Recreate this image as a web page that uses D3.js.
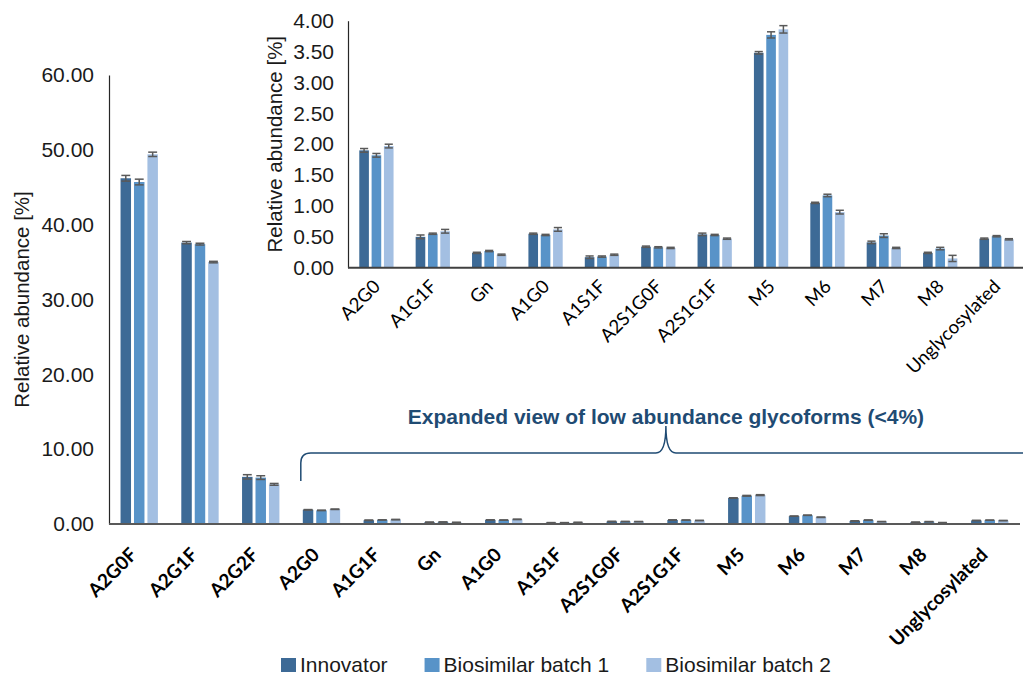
<!DOCTYPE html>
<html>
<head>
<meta charset="utf-8">
<script src="https://cdn.jsdelivr.net/npm/d3@7"></script>
<style>
  body { margin: 0; background: #fff; }
  svg { display: block; }
</style>
</head>
<body>
<svg id="chart" width="1023" height="677"></svg>
<script>
// Glycoform categories (main chart shows all, inset shows the low-abundance ones)
const categories = ["A2G0F", "A2G1F", "A2G2F", "A2G0", "A1G1F", "Gn", "A1G0", "A1S1F",
  "A2S1G0F", "A2S1G1F", "M5", "M6", "M7", "M8", "Unglycosylated"];
const lowCategories = categories.slice(3);

const seriesNames = ["Innovator", "Biosimilar batch 1", "Biosimilar batch 2"];

// Relative abundance [%] per glycoform
const innovator = [46.2, 37.6, 6.3, 1.90, 0.50, 0.24, 0.55, 0.17, 0.34, 0.54, 3.48, 1.05, 0.41, 0.24, 0.47];
const batch1    = [45.7, 37.4, 6.2, 1.82, 0.55, 0.27, 0.53, 0.18, 0.33, 0.53, 3.77, 1.17, 0.52, 0.31, 0.51];
const batch2    = [49.4, 35.0, 5.3, 1.97, 0.59, 0.21, 0.62, 0.21, 0.32, 0.47, 3.86, 0.90, 0.32, 0.15, 0.46];

// Standard deviations
const innovatorErr = [0.38, 0.15, 0.29, 0.03, 0.03, 0.01, 0.01, 0.02, 0.01, 0.02, 0.02, 0.01, 0.02, 0.01, 0.01];
const batch1Err    = [0.38, 0.12, 0.25, 0.03, 0.01, 0.01, 0.01, 0.01, 0.01, 0.01, 0.05, 0.02, 0.03, 0.02, 0.01];
const batch2Err    = [0.29, 0.10, 0.12, 0.03, 0.03, 0.01, 0.03, 0.01, 0.01, 0.01, 0.06, 0.03, 0.01, 0.05, 0.01];

const mainTicks  = [0, 10, 20, 30, 40, 50, 60];
const insetTicks = [0, 0.5, 1, 1.5, 2, 2.5, 3, 3.5, 4];

const yTitle = "Relative abundance [%]";
const bracketLabel = "Expanded view of low abundance glycoforms (<4%)";

const seriesColors = ["#3d6a96", "#5893c8", "#a3bfe2"];
const errColor = "#595959";
const noteColor = "#1f4b73";
const sansFont = "'Liberation Sans', Arial, sans-serif";
const labelFont = "Lato, 'Open Sans', sans-serif";

const seriesValues = [innovator, batch1, batch2];
const seriesErrs = [innovatorErr, batch1Err, batch2Err];
const rows = categories.map((c, i) => ({
  category: c,
  values: seriesNames.map((s, j) => ({ series: s, value: seriesValues[j][i], err: seriesErrs[j][i] }))
}));
const lowRows = rows.filter(r => lowCategories.includes(r.category));

const svg = d3.select("#chart");
const W = 1023;

// ---------- scales ----------
const mainX = d3.scaleBand().domain(categories).range([109, 1020]).paddingInner(0.385).paddingOuter(0.19);
const mainY = d3.scaleLinear().domain([0, 60]).range([524, 75]);
const mainSub = d3.scaleBand().domain(seriesNames).range([0, mainX.bandwidth()]).paddingInner(0.22);

const insetX = d3.scaleBand().domain(lowCategories).range([348, 1025]).paddingInner(0.392).paddingOuter(0.2);
const insetY = d3.scaleLinear().domain([0, 4]).range([267.7, 20.7]);
const insetSub = d3.scaleBand().domain(seriesNames).range([0, insetX.bandwidth()]).paddingInner(0.22);

const color = d3.scaleOrdinal().domain(seriesNames).range(seriesColors);

function drawBars(layer, data, x, y, sub) {
  const groups = layer.selectAll("g.grp").data(data).join("g")
    .attr("class", "grp")
    .attr("transform", d => `translate(${x(d.category)},0)`);
  groups.selectAll("rect").data(d => d.values).join("rect")
    .attr("x", d => sub(d.series))
    .attr("y", d => y(d.value))
    .attr("width", sub.bandwidth())
    .attr("height", d => y(0) - y(d.value))
    .attr("fill", d => color(d.series));
  const capW = sub.bandwidth() * 0.85;
  const eb = groups.selectAll("g.err").data(d => d.values).join("g").attr("class", "err")
    .attr("stroke", errColor).attr("stroke-width", 1.5).attr("fill", "none");
  eb.append("line")
    .attr("x1", d => sub(d.series) + sub.bandwidth() / 2)
    .attr("x2", d => sub(d.series) + sub.bandwidth() / 2)
    .attr("y1", d => y(d.value - d.err)).attr("y2", d => y(d.value + d.err));
  [-1, 1].forEach(s => {
    eb.append("line")
      .attr("x1", d => sub(d.series) + (sub.bandwidth() - capW) / 2)
      .attr("x2", d => sub(d.series) + (sub.bandwidth() + capW) / 2)
      .attr("y1", d => y(d.value + s * d.err)).attr("y2", d => y(d.value + s * d.err));
  });
}

function drawYAxis(layer, y, ticks, xPos, pad, yFont) {
  const ax = layer.append("g").attr("transform", `translate(${xPos},0)`)
    .call(d3.axisLeft(y).tickValues(ticks).tickFormat(d3.format(".2f")).tickSize(0).tickSizeOuter(0).tickPadding(pad));
  ax.select(".domain").attr("stroke", "#262626").attr("stroke-width", 1.2);
  ax.selectAll(".tick text")
    .attr("font-family", sansFont)
    .attr("font-size", yFont).attr("fill", "#1a1a1a");
  return ax;
}

// ---------- main chart ----------
const main = svg.append("g");
drawBars(main.append("g"), rows, mainX, mainY, mainSub);
drawYAxis(main, mainY, mainTicks, 109, 15, 21);
main.append("line").attr("x1", 109).attr("x2", 1020).attr("y1", mainY(0)).attr("y2", mainY(0))
  .attr("stroke", "#595959").attr("stroke-width", 2);
main.append("text")
  .attr("transform", `translate(29,${(mainY(0) + mainY(60)) / 2 + 0}) rotate(-90)`)
  .attr("text-anchor", "middle")
  .attr("font-family", sansFont).attr("font-size", 20.5).attr("fill", "#1a1a1a")
  .text(yTitle);
main.selectAll("text.cat").data(categories).join("text").attr("class", "cat")
  .attr("transform", d => `translate(${mainX(d) + mainX.bandwidth() / 2 - 1},${mainY(0) + 32}) rotate(-45)`)
  .attr("text-anchor", "end")
  .attr("font-family", labelFont).attr("font-weight", 700).attr("font-size", 19)
  .attr("fill", "#000").text(d => d);

// ---------- inset (low-abundance) chart ----------
const inset = svg.append("g");
drawBars(inset.append("g"), lowRows, insetX, insetY, insetSub);
drawYAxis(inset, insetY, insetTicks, 348, 14, 21);
inset.append("line").attr("x1", 348).attr("x2", W).attr("y1", insetY(0)).attr("y2", insetY(0))
  .attr("stroke", "#404040").attr("stroke-width", 2);
inset.append("text")
  .attr("transform", `translate(282,${(insetY(0) + insetY(4)) / 2 - 0}) rotate(-90)`)
  .attr("text-anchor", "middle")
  .attr("font-family", sansFont).attr("font-size", 20.5).attr("fill", "#1a1a1a")
  .text(yTitle);
inset.selectAll("text.cat").data(lowCategories).join("text").attr("class", "cat")
  .attr("transform", d => `translate(${insetX(d) + insetX.bandwidth() / 2 + 5},${insetY(0) + 20}) rotate(-45)`)
  .attr("text-anchor", "end")
  .attr("font-family", labelFont).attr("font-size", 18.5)
  .attr("fill", "#000").text(d => d);

// ---------- bracket linking the low-abundance groups to the inset ----------
const bLeft = mainX(lowCategories[0]) - 2;
const bRight = W + 2;
const bMid = (bLeft + bRight) / 2 + 3;
const bBase = 481, bLine = 453, bTop = 426, r = 10;
const bp = d3.path();
bp.moveTo(bLeft, bBase);
bp.lineTo(bLeft, bLine + r);
bp.quadraticCurveTo(bLeft, bLine, bLeft + r, bLine);
bp.lineTo(bMid - r, bLine);
bp.quadraticCurveTo(bMid, bLine, bMid, bTop);
bp.quadraticCurveTo(bMid, bLine, bMid + r, bLine);
bp.lineTo(bRight, bLine);
svg.append("path").attr("d", bp.toString()).attr("fill", "none")
  .attr("stroke", noteColor).attr("stroke-width", 1.5);
svg.append("text").attr("x", bMid).attr("y", 424).attr("text-anchor", "middle")
  .attr("font-family", sansFont).attr("font-weight", 700)
  .attr("font-size", 21).attr("fill", noteColor).text(bracketLabel);

// ---------- legend ----------
const legend = svg.append("g").attr("transform", "translate(281,665)");
let lx = 0;
seriesNames.forEach((s, i) => {
  const item = legend.append("g").attr("transform", `translate(${lx},0)`);
  item.append("rect").attr("x", 0).attr("y", -7).attr("width", 15).attr("height", 14).attr("fill", color(s));
  const t = item.append("text").attr("x", 19).attr("y", 0).attr("dy", "0.35em")
    .attr("font-family", sansFont).attr("font-size", 21)
    .attr("fill", "#1a1a1a").text(s);
  lx += 19 + t.node().getComputedTextLength() + 37;
});
</script>
</body>
</html>
